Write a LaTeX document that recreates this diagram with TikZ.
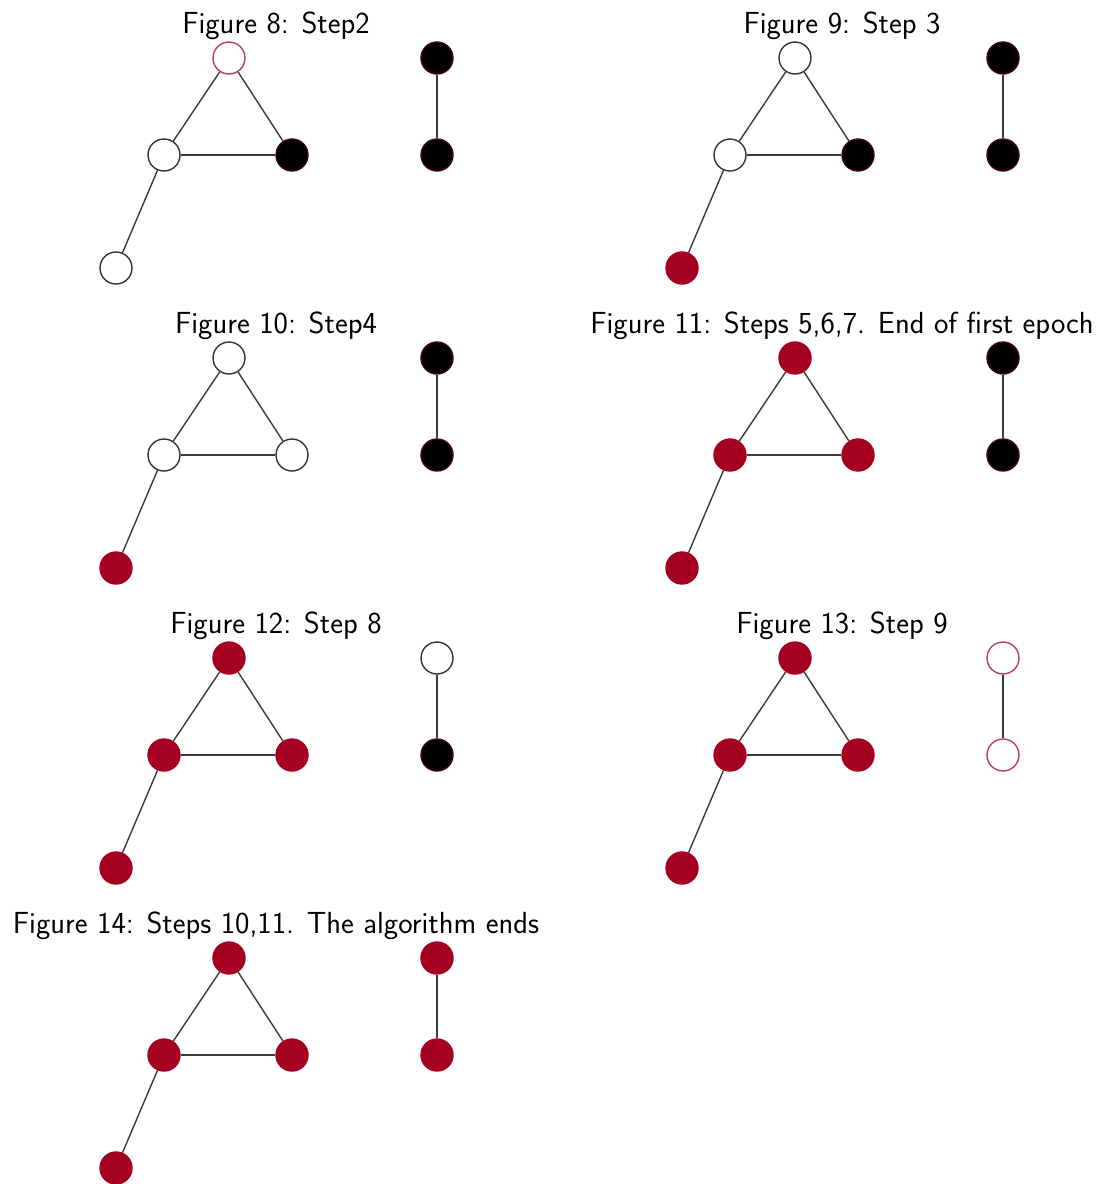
\documentclass[tikz,border=0pt]{standalone}
\usepackage{tikz}
\usetikzlibrary{backgrounds}
\definecolor{wine}{HTML}{A50022}
\definecolor{edgegray}{HTML}{3A3A3A}
\tikzset{
  vtx/.style={circle, minimum size=32pt, inner sep=0pt, line width=1.4pt},
  wnode/.style={vtx, draw=black!80, fill=white},
  wrnode/.style={vtx, draw=wine!75!white, fill=white},
  knode/.style={vtx, draw=wine!40!black, fill=black},
  rnode/.style={vtx, draw=wine, fill=wine},
  link/.style={draw=edgegray, line width=1.4pt},
  caption/.style={font=\sffamily\fontsize{30.5}{33}\selectfont, inner sep=0pt, anchor=base}
}
% one panel: #1 prefix, #2 caption, #3..#8 styles of the six vertices
\newcommand\drawpanel[8]{%
  \node[caption] (#1cap) at (276,33) {#2};
  \node[#3] (#1t) at (229,58) {};
  \node[#4] (#1l) at (164,155) {};
  \node[#5] (#1r) at (292,155) {};
  \node[#6] (#1b) at (116,268) {};
  \node[#7] (#1p) at (437,58) {};
  \node[#8] (#1q) at (437,155) {};
  \begin{scope}[on background layer]
    \draw[link] (#1t) -- (#1l);
    \draw[link] (#1t) -- (#1r);
    \draw[link] (#1l) -- (#1r);
    \draw[link] (#1l) -- (#1b);
    \draw[link] (#1p) -- (#1q);
  \end{scope}
}
\begin{document}
\begin{tikzpicture}[x=1pt, y=-1pt]
  \useasboundingbox (0,0) rectangle (1102,1184);
  \begin{scope}
    \drawpanel{a}{Figure 8: Step2}{wrnode}{wnode}{knode}{wnode}{knode}{knode}
  \end{scope}
  \begin{scope}[shift={(566,0)}]
    \drawpanel{b}{Figure 9: Step 3}{wnode}{wnode}{knode}{rnode}{knode}{knode}
  \end{scope}
  \begin{scope}[shift={(0,300)}]
    \drawpanel{c}{Figure 10: Step4}{wnode}{wnode}{wnode}{rnode}{knode}{knode}
  \end{scope}
  \begin{scope}[shift={(566,300)}]
    \drawpanel{d}{Figure 11: Steps 5,6,7. End of first epoch}{rnode}{rnode}{rnode}{rnode}{knode}{knode}
  \end{scope}
  \begin{scope}[shift={(0,600)}]
    \drawpanel{e}{Figure 12: Step 8}{rnode}{rnode}{rnode}{rnode}{wnode}{knode}
  \end{scope}
  \begin{scope}[shift={(566,600)}]
    \drawpanel{f}{Figure 13: Step 9}{rnode}{rnode}{rnode}{rnode}{wrnode}{wrnode}
  \end{scope}
  \begin{scope}[shift={(0,900)}]
    \drawpanel{g}{Figure 14: Steps 10,11. The algorithm ends}{rnode}{rnode}{rnode}{rnode}{rnode}{rnode}
  \end{scope}
\end{tikzpicture}
\end{document}
